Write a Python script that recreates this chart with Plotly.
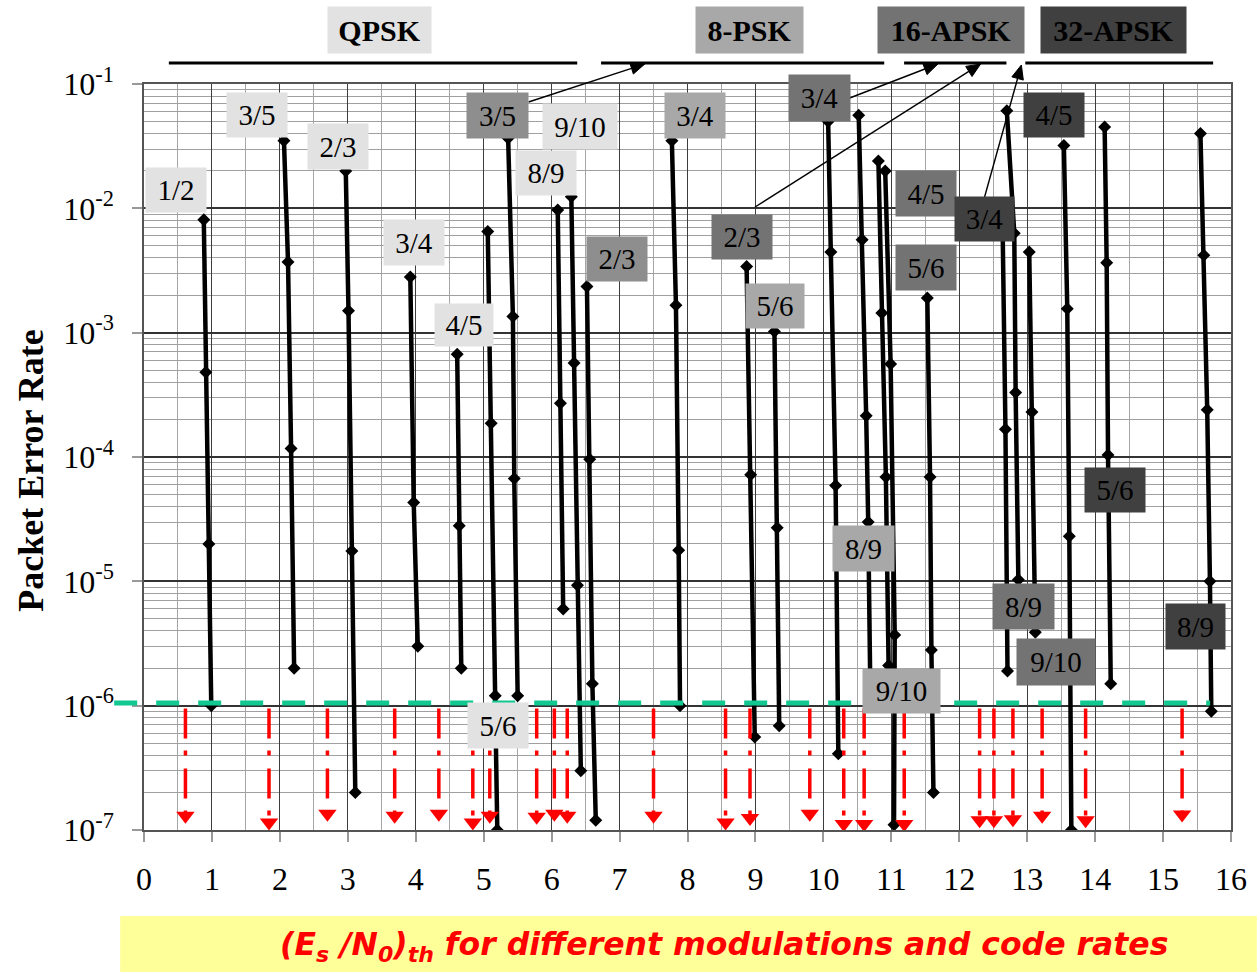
import math
import plotly.graph_objects as go

# ---------------------------------------------------------------- data
QPSK_RATES = ["1/2", "3/5", "2/3", "3/4", "4/5", "5/6", "8/9", "9/10"]
QPSK_ESN0 = [
    [0.88, 0.91, 0.955, 0.99],
    [2.06, 2.12, 2.165, 2.21],
    [2.97, 3.01, 3.06, 3.11],
    [3.92, 3.97, 4.03],
    [4.61, 4.64, 4.67],
    [5.06, 5.11, 5.17, 5.20],
    [6.09, 6.13, 6.17],
    [6.29, 6.33, 6.38, 6.43],
]
QPSK_PER = [
    [8.1e-3, 4.8e-4, 2.0e-5, 1.0e-6],
    [3.5e-2, 3.7e-3, 1.17e-4, 2.0e-6],
    [2.0e-2, 1.5e-3, 1.75e-5, 2.0e-7],
    [2.8e-3, 4.3e-5, 3.0e-6],
    [6.7e-4, 2.8e-5, 2.0e-6],
    [6.5e-3, 1.87e-4, 1.2e-6, 1.0e-7],
    [9.7e-3, 2.7e-4, 6.0e-6],
    [1.24e-2, 5.7e-4, 9.3e-6, 3.0e-7],
]

PSK8_RATES = ["3/5", "2/3", "3/4", "5/6", "8/9", "9/10"]
PSK8_ESN0 = [
    [5.36, 5.43, 5.45, 5.50],
    [6.52, 6.56, 6.60, 6.65],
    [7.77, 7.83, 7.87, 7.89],
    [9.28, 9.32, 9.35],
    [10.52, 10.57, 10.63, 10.66, 10.69],
    [10.81, 10.86, 10.92, 10.96],
]
PSK8_PER = [
    [3.67e-2, 1.35e-3, 6.7e-5, 1.2e-6],
    [2.35e-3, 9.6e-5, 1.5e-6, 1.2e-7],
    [3.5e-2, 1.66e-3, 1.78e-5, 1.0e-6],
    [1.02e-3, 2.7e-5, 6.9e-7],
    [5.6e-2, 5.6e-3, 2.15e-4, 3.0e-5, 1.5e-6],
    [2.4e-2, 1.44e-3, 6.9e-5, 2.1e-6],
]

APSK16_RATES = ["2/3", "3/4", "4/5", "5/6", "8/9", "9/10"]
APSK16_ESN0 = [
    [8.87, 8.93, 8.99],
    [10.07, 10.11, 10.18, 10.22],
    [10.91, 10.99, 11.05, 11.04],
    [11.53, 11.57, 11.59, 11.62],
    [12.70, 12.81, 12.83, 12.87],
    [13.03, 13.07, 13.12],
]
APSK16_PER = [
    [3.4e-3, 7.2e-5, 5.6e-7],
    [5.0e-2, 4.45e-3, 5.9e-5, 4.1e-7],
    [2.0e-2, 5.6e-4, 3.7e-6, 1.1e-7],
    [1.9e-3, 6.9e-5, 2.8e-6, 2.0e-7],
    [6.1e-2, 6.3e-3, 3.3e-4, 1.03e-5],
    [4.45e-3, 2.3e-4, 3.9e-6],
]

APSK32_RATES = ["3/4", "4/5", "5/6", "8/9"]
APSK32_ESN0 = [
    [12.64, 12.68, 12.71],
    [13.54, 13.59, 13.62, 13.65],
    [14.14, 14.17, 14.19, 14.23],
    [15.55, 15.60, 15.65, 15.69, 15.71],
]
APSK32_PER = [
    [6.0e-3, 1.67e-4, 1.9e-6],
    [3.2e-2, 1.56e-3, 2.3e-5, 1.0e-7],
    [4.5e-2, 3.65e-3, 1.04e-4, 1.5e-6],
    [4.0e-2, 4.2e-3, 2.4e-4, 1.0e-5, 9.0e-7],
]

TARGET_PER = 1.05e-6
ARROW_START_PER = 9.5e-7
THRESHOLD_ESN0 = [0.61, 1.84, 2.70, 3.69, 4.34, 4.84, 5.09, 5.78, 6.04, 6.23,
                  7.50, 8.56, 8.92, 9.80, 10.30, 10.60, 11.19, 12.30, 12.51,
                  12.79, 13.22, 13.86, 15.28]
ARROW_TIP_PER = [1.3e-7, 1.15e-7, 1.35e-7, 1.3e-7, 1.35e-7, 1.15e-7, 1.3e-7,
                 1.28e-7, 1.35e-7, 1.3e-7, 1.3e-7, 1.15e-7, 1.25e-7, 1.35e-7,
                 1.12e-7, 1.12e-7, 1.12e-7, 1.2e-7, 1.2e-7, 1.22e-7, 1.3e-7,
                 1.2e-7, 1.33e-7]

MOD_NAMES = ["QPSK", "8-PSK", "16-APSK", "32-APSK"]
X_TICKS = list(range(0, 17))
Y_TICKS = [1e-7, 1e-6, 1e-5, 1e-4, 1e-3, 1e-2, 1e-1]
Y_TICK_TEXT = ["10<sup>-7</sup>", "10<sup>-6</sup>", "10<sup>-5</sup>",
               "10<sup>-4</sup>", "10<sup>-3</sup>", "10<sup>-2</sup>",
               "10<sup>-1</sup>"]
Y_TITLE = "Packet Error Rate"
BOTTOM_TEXT = ("(E<sub>s</sub> /N<sub>0</sub>)<sub>th</sub> for different "
               "modulations and code rates")

# ---------------------------------------------------------------- layout geometry
W, H = 1259, 972
ML, MT, PW, PH = 144, 84, 1094, 746
MR, MB = W - ML - PW, H - MT - PH


def px_x(px):
    return (px - ML) / PW


def px_y(py):
    return (MT + PH - py) / PH


SERIF = "Liberation Serif, Times New Roman, serif"
MOD_BG = ["#E2E2E2", "#A8A8A8", "#737373", "#404040"]

# label boxes: (modulation index, rate, centre x px, centre y px, width, height, bg override)
LABELS = [
    (0, "1/2", 176, 190, 60, 44, None),
    (0, "3/5", 258, 115, 60, 44, None),
    (0, "2/3", 339, 146, 60, 45, None),
    (0, "3/4", 416, 242, 60, 45, None),
    (0, "4/5", 466, 325, 58, 42, None),
    (0, "5/6", 500, 725, 60, 45, None),
    (0, "8/9", 549, 173, 60, 44, None),
    (0, "9/10", 583, 126, 74, 45, None),
    (1, "3/5", 500, 115, 61, 45, "#8E8E8E"),
    (1, "2/3", 620, 259, 60, 44, "#8E8E8E"),
    (1, "3/4", 699, 115, 60, 45, None),
    (1, "5/6", 779, 306, 58, 44, None),
    (1, "8/9", 868, 548, 61, 45, None),
    (1, "9/10", 906, 691, 77, 44, None),
    (2, "3/4", 824, 98, 61, 46, None),
    (2, "2/3", 746, 237, 60, 44, None),
    (2, "4/5", 931, 193, 60, 45, None),
    (2, "5/6", 931, 267, 60, 45, None),
    (2, "8/9", 1029, 606, 61, 45, None),
    (2, "9/10", 1062, 662, 78, 46, None),
    (3, "3/4", 990, 219, 59, 44, None),
    (3, "4/5", 1060, 115, 60, 44, None),
    (3, "5/6", 1121, 490, 60, 44, None),
    (3, "8/9", 1202, 626, 59, 45, None),
]
HEADERS = [(381, 103), (753, 107), (956, 146), (1120, 145)]   # centre x px, width
BRACKETS = [(169, 580), (604, 889), (909, 1012), (1031, 1220)]
ARROWS = [  # tail (x, y) px -> head (x, y) px
    (531, 102, 648, 64),
    (849, 100, 943, 64),
    (759, 207, 986, 64),
    (990, 197, 1027, 65),
]

# ---------------------------------------------------------------- figure
fig = go.Figure()

all_x = [QPSK_ESN0, PSK8_ESN0, APSK16_ESN0, APSK32_ESN0]
all_y = [QPSK_PER, PSK8_PER, APSK16_PER, APSK32_PER]
all_r = [QPSK_RATES, PSK8_RATES, APSK16_RATES, APSK32_RATES]
for mi, (xs_list, ys_list, rates) in enumerate(zip(all_x, all_y, all_r)):
    for xs, ys, rate in zip(xs_list, ys_list, rates):
        fig.add_trace(go.Scatter(
            x=xs, y=ys, mode="lines+markers", name=f"{MOD_NAMES[mi]} {rate}",
            line=dict(color="black", width=4.5),
            marker=dict(symbol="diamond", size=10, color="black"),
            showlegend=False, hoverinfo="skip"))

for xa, ye in zip(THRESHOLD_ESN0, ARROW_TIP_PER):
    fig.add_trace(go.Scatter(
        x=[xa, xa], y=[ARROW_START_PER, ye], mode="lines",
        line=dict(color="#FF0000", width=3.5, dash="30px,12px,5px,13px"),
        showlegend=False, hoverinfo="skip"))
fig.add_trace(go.Scatter(
    x=THRESHOLD_ESN0, y=ARROW_TIP_PER, mode="markers",
    marker=dict(symbol="triangle-down", size=16, color="#FF0000"),
    showlegend=False, hoverinfo="skip", cliponaxis=False))

# green target line
fig.add_shape(type="line", xref="paper", yref="y", x0=px_x(114), x1=px_x(1217),
              y0=TARGET_PER, y1=TARGET_PER,
              line=dict(color="#10C890", width=5, dash="23px,19px"), layer="above")

# header brackets
for x0, x1 in BRACKETS:
    fig.add_shape(type="line", xref="paper", yref="paper", x0=px_x(x0), x1=px_x(x1),
                  y0=px_y(63), y1=px_y(63), line=dict(color="black", width=3))

# thin pointer arrows from labels to brackets (line + filled head)
for tx, ty, hx, hy in ARROWS:
    dx, dy = hx - tx, hy - ty
    L = math.hypot(dx, dy)
    ux, uy = dx / L, dy / L
    hl, hw = 14, 6
    bx, by = hx - ux * hl, hy - uy * hl
    fig.add_shape(type="line", xref="paper", yref="paper",
                  x0=px_x(tx), y0=px_y(ty), x1=px_x(bx), y1=px_y(by),
                  line=dict(color="black", width=1.4))
    p1 = (bx - uy * hw, by + ux * hw)
    p2 = (bx + uy * hw, by - ux * hw)
    path = (f"M {px_x(hx)} {px_y(hy)} L {px_x(p1[0])} {px_y(p1[1])} "
            f"L {px_x(p2[0])} {px_y(p2[1])} Z")
    fig.add_shape(type="path", xref="paper", yref="paper", path=path,
                  fillcolor="black", line=dict(color="black", width=1))

# bottom yellow band
fig.add_shape(type="rect", xref="paper", yref="paper", x0=px_x(120), x1=px_x(W + 5),
              y0=px_y(916), y1=px_y(H + 5), fillcolor="#FFFF99",
              line=dict(width=0), layer="below")

annotations = []
for mi, rate, cx, cy, w, h, bg in LABELS:
    annotations.append(dict(
        xref="paper", yref="paper", x=px_x(cx), y=px_y(cy), text=rate,
        showarrow=False, xanchor="center", yanchor="middle",
        width=w, height=h, borderpad=0, bgcolor=bg or MOD_BG[mi],
        font=dict(family=SERIF, size=29, color="black")))
for (cx, w), name, bg in zip(HEADERS, MOD_NAMES, MOD_BG):
    annotations.append(dict(
        xref="paper", yref="paper", x=px_x(cx), y=px_y(30), text=f"<b>{name}</b>",
        showarrow=False, xanchor="center", yanchor="middle",
        width=w, height=46, borderpad=0, bgcolor=bg,
        font=dict(family=SERIF, size=30, color="black")))
annotations.append(dict(
    xref="paper", yref="paper", x=px_x(30), y=px_y(470), text=f"<b>{Y_TITLE}</b>",
    textangle=-90, showarrow=False, xanchor="center", yanchor="middle",
    font=dict(family=SERIF, size=36, color="black")))
annotations.append(dict(
    xref="paper", yref="paper", x=px_x(728), y=px_y(946), text=f"<b><i>{BOTTOM_TEXT}</i></b>",
    showarrow=False, xanchor="center", yanchor="middle",
    font=dict(family="DejaVu Sans", size=31.5, color="#FF0000")))

minor_y = [k * 10.0 ** e for e in range(-7, -1) for k in range(2, 10)]

fig.update_layout(
    width=W, height=H, margin=dict(l=ML, r=MR, t=MT, b=MB, pad=0),
    paper_bgcolor="white", plot_bgcolor="white", showlegend=False,
    annotations=annotations,
    xaxis=dict(range=[0, 16], tickmode="array", tickvals=X_TICKS,
               ticks="outside", ticklen=10, tickcolor="#999999", tickwidth=1.5,
               showgrid=True, gridcolor="#3c3c3c", gridwidth=1.4,
               minor=dict(dtick=0.5, tick0=0, showgrid=True, gridcolor="#a5a5a5",
                          gridwidth=1.4, ticks=""),
               showline=True, mirror=True, linecolor="#555555", linewidth=1.5,
               zeroline=False, ticklabelstandoff=10,
               tickfont=dict(family=SERIF, size=32, color="black")),
    yaxis=dict(type="log", range=[-7, -1], tickmode="array", tickvals=Y_TICKS,
               ticktext=Y_TICK_TEXT, ticks="outside", ticklen=10,
               tickcolor="#999999", tickwidth=1.5,
               showgrid=True, gridcolor="#333333", gridwidth=2,
               minor=dict(tickmode="array", tickvals=minor_y, showgrid=True,
                          gridcolor="#a0a0a0", gridwidth=1.4, ticks=""),
               showline=True, mirror=True, linecolor="#555555", linewidth=1.5,
               zeroline=False, ticklabelstandoff=12,
               tickfont=dict(family=SERIF, size=32, color="black")),
)

fig.write_html("out.html")
